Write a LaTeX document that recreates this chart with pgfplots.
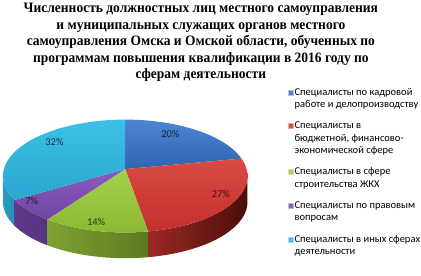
\documentclass[border=0pt]{standalone}
\usepackage{pgfplots}
\pgfplotsset{compat=1.18}
\usepackage{pgfplotstable}
\usepackage{fontspec}
\setmainfont{Liberation Serif}
\newfontfamily\titlefont[FakeStretch=0.94]{Liberation Serif}
\newfontfamily\carlito{Carlito}
\definecolor{bT}{HTML}{4C86D3}\definecolor{bB}{HTML}{2F64B0}
\definecolor{rT}{HTML}{DA4A45}\definecolor{rB}{HTML}{C42F2C}
\definecolor{gT}{HTML}{A6D24B}\definecolor{gB}{HTML}{8DB832}
\definecolor{pT}{HTML}{8A5CC0}\definecolor{pB}{HTML}{6F44A3}
\definecolor{cT}{HTML}{3CC0E6}\definecolor{cB}{HTML}{2AA6CF}
\definecolor{rS1}{HTML}{9C2A25}\definecolor{rS2}{HTML}{4A0D0B}
\definecolor{gS1}{HTML}{7EA232}\definecolor{gS2}{HTML}{5A7A22}
\definecolor{pS1}{HTML}{5E3A8A}\definecolor{pS2}{HTML}{553282}
\definecolor{cS1}{HTML}{2A9CC0}\definecolor{cS2}{HTML}{2590B2}
\pgfplotstableread{
id value
1 20
2 27
3 14
4 7
5 32
}\piedata
\begin{document}
\begin{tikzpicture}
\pgfplotstablegetelem{0}{value}\of\piedata\let\vA\pgfplotsretval
\pgfplotstablegetelem{1}{value}\of\piedata\let\vB\pgfplotsretval
\pgfplotstablegetelem{2}{value}\of\piedata\let\vC\pgfplotsretval
\pgfplotstablegetelem{3}{value}\of\piedata\let\vD\pgfplotsretval
\pgfplotstablegetelem{4}{value}\of\piedata\let\vE\pgfplotsretval
\pgfmathsetmacro\aA{90}
\pgfmathsetmacro\aB{\aA-3.6*\vA}
\pgfmathsetmacro\aC{\aB-3.6*\vB}
\pgfmathsetmacro\aD{\aC-3.6*\vC}
\pgfmathsetmacro\aE{\aD-3.6*\vD}
\pgfmathsetmacro\aF{\aE-3.6*\vE}
\pgfmathsetmacro\rA{min(\aB,0)}
\begin{axis}[
  width=421pt, height=272pt, scale only axis,
  xmin=0, xmax=421, ymin=0, ymax=272,
  hide axis, clip=false,
  declare function={
    ta(\t,\a,\b)=\a+(\b-\a)*\t/40;
    topx(\t,\a,\b)=(\t<41)*(126.5+123.5*cos(ta(\t,\a,\b)))+(\t>40)*126.5;
    topy(\t,\a,\b)=(\t<41)*(100+57*sin(ta(\t,\a,\b)))+(\t>40)*107;
    sa(\t,\a,\b)=(\t<41)*ta(\t,\a,\b)+(\t>40)*ta(\t-41,\b,\a);
    sidex(\t,\a,\b)=126.5+123.5*cos(sa(\t,\a,\b));
    sidey(\t,\a,\b)=100+57*sin(sa(\t,\a,\b))-26*(\t>40);
  },
  title={Численность должностных лиц местного самоуправления\\
         и муниципальных служащих органов местного\\
         самоуправления Омска и Омской области, обученных по\\
         программам повышения квалификации в 2016 году по\\
         сферам деятельности},
  title style={at={(0.482,1)}, anchor=north, yshift=0pt, align=center,
    font=\titlefont\bfseries\fontsize{14.5}{16.7}\selectfont},
  legend style={at={(axis cs:291,190)}, anchor=north west, draw=none, fill=none,
    inner sep=0pt, row sep=11pt, font=\carlito\fontsize{10.6}{12.5}\selectfont,
    nodes={inner sep=1pt},
    cells={anchor=west, align=left}},
  legend image code/.code={\fill[#1] (0pt,-2.5pt) rectangle (5pt,2.5pt);},
]
\path (rel axis cs:0,0) rectangle (rel axis cs:1,1);
% side walls
\addplot[forget plot, draw=none, left color=cS1, right color=cS2, samples at={0,1,...,81}, variable=\t]
  ({sidex(\t,-180,\aE)},{sidey(\t,-180,\aE)});
\addplot[forget plot, draw=none, left color=pS1, right color=pS2, samples at={0,1,...,81}, variable=\t]
  ({sidex(\t,\aE,\aD)},{sidey(\t,\aE,\aD)});
\addplot[forget plot, draw=none, left color=gS1, right color=gS2, samples at={0,1,...,81}, variable=\t]
  ({sidex(\t,\aD,\aC)},{sidey(\t,\aD,\aC)});
\addplot[forget plot, draw=none, left color=rS1, right color=rS2, samples at={0,1,...,81}, variable=\t]
  ({sidex(\t,\aC,\rA)},{sidey(\t,\aC,\rA)});
% top faces
\addplot[forget plot, draw=none, top color=bT, bottom color=bB, samples at={0,1,...,41}, variable=\t]
  ({topx(\t,\aA,\aB)},{topy(\t,\aA,\aB)});
\addplot[forget plot, draw=none, top color=rT, bottom color=rB, samples at={0,1,...,41}, variable=\t]
  ({topx(\t,\aB,\aC)},{topy(\t,\aB,\aC)});
\addplot[forget plot, draw=none, top color=gT, bottom color=gB, samples at={0,1,...,41}, variable=\t]
  ({topx(\t,\aC,\aD)},{topy(\t,\aC,\aD)});
\addplot[forget plot, draw=none, top color=pT, bottom color=pB, samples at={0,1,...,41}, variable=\t]
  ({topx(\t,\aD,\aE)},{topy(\t,\aD,\aE)});
\addplot[forget plot, draw=none, top color=cT, bottom color=cB, samples at={0,1,...,41}, variable=\t]
  ({topx(\t,\aE,\aF)},{topy(\t,\aE,\aF)});
% percentage labels
\addplot[forget plot, draw=none, mark=none, nodes near coords, point meta=explicit symbolic,
  every node near coord/.append style={anchor=center, text=black, text opacity=0.72,
    font=\carlito\fontsize{10.5}{12}\selectfont}]
  coordinates {(172,142) [20\%] (223,82) [27\%] (97,54) [14\%] (32,75) [7\%] (55,134) [32\%]};
% legend
\addlegendimage{fill=bT, draw=white!60!bB, yshift=6.25pt}
\addlegendentry{Специалисты по кадровой\\работе и делопроизводству}
\addlegendimage{fill=rT, draw=white!60!rB, yshift=12.5pt}
\addlegendentry{Специалисты в\\бюджетной, финансово-\\экономической сфере}
\addlegendimage{fill=gT, draw=white!60!gB, yshift=6.25pt}
\addlegendentry{Специалисты в сфере\\строительства ЖКХ}
\addlegendimage{fill=pT, draw=white!60!pB, yshift=6.25pt}
\addlegendentry{Специалисты по правовым\\вопросам}
\addlegendimage{fill=cT, draw=white!60!cB, yshift=6.25pt}
\addlegendentry{Специалисты в иных сферах\\деятельности}
\end{axis}
\end{tikzpicture}
\end{document}
